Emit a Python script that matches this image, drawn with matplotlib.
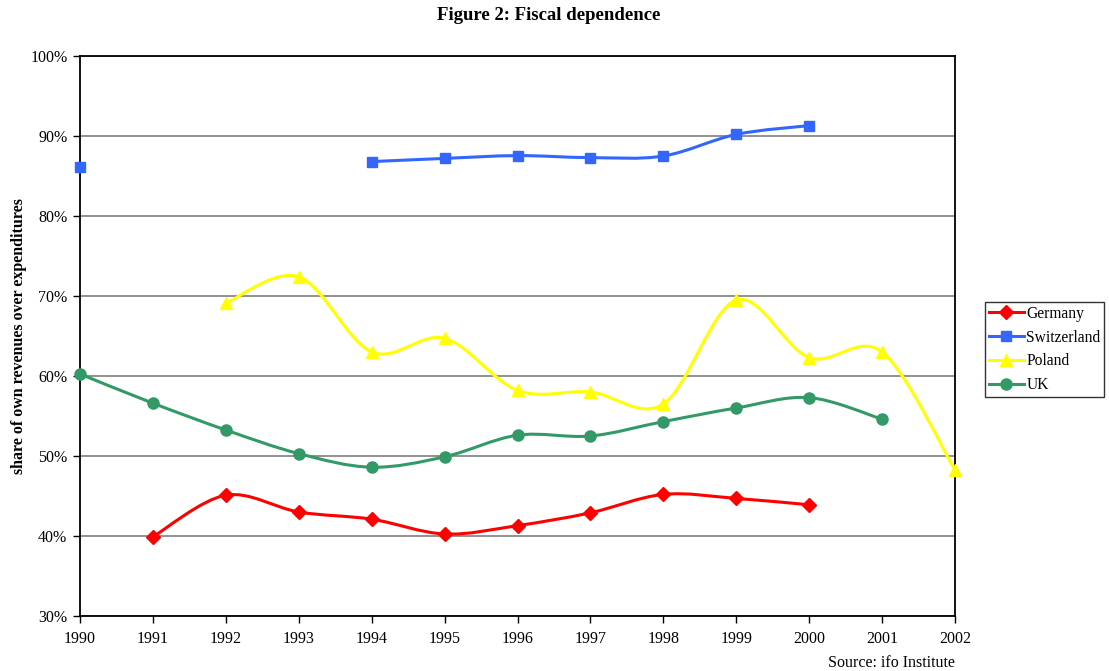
import numpy as np
import matplotlib
matplotlib.use("Agg")
import matplotlib.pyplot as plt
from matplotlib.path import Path
from matplotlib.patches import PathPatch
from matplotlib.ticker import FuncFormatter, MultipleLocator

plt.rcParams['font.family'] = ['Liberation Serif', 'DejaVu Serif']

years = list(range(1990, 2003))

germany_years = [1991, 1992, 1993, 1994, 1995, 1996, 1997, 1998, 1999, 2000]
germany = [39.9, 45.1, 43.0, 42.1, 40.25, 41.3, 42.9, 45.2, 44.7, 43.9]

swiss_years = [1990, 1994, 1995, 1996, 1997, 1998, 1999, 2000]
switzerland = [86.1, 86.8, 87.2, 87.55, 87.3, 87.5, 90.2, 91.3]

poland_years = [1992, 1993, 1994, 1995, 1996, 1997, 1998, 1999, 2000, 2001, 2002]
poland = [69.1, 72.4, 63.0, 64.7, 58.2, 58.0, 56.5, 69.5, 62.3, 63.0, 48.25]

uk_years = [1990, 1991, 1992, 1993, 1994, 1995, 1996, 1997, 1998, 1999, 2000, 2001]
uk = [60.25, 56.6, 53.25, 50.3, 48.6, 49.9, 52.6, 52.5, 54.3, 56.0, 57.3, 54.6]

series = [
    ("Germany", germany_years, germany, "#FF0000", "D", 7),
    ("Switzerland", swiss_years, switzerland, "#3366FF", "s", 7.5),
    ("Poland", poland_years, poland, "#FFFF00", "^", 8),
    ("UK", uk_years, uk, "#339966", "o", 8),
]

fig = plt.figure(figsize=(11.09, 6.71), dpi=100)
ax = fig.add_axes([80 / 1109, 1 - 616 / 671, (955 - 80) / 1109, (616 - 56) / 671])


def smooth_path(xs, ys):
    """Catmull-Rom style Bezier through consecutive points (Excel-like smoothing)."""
    pts = np.column_stack([xs, ys]).astype(float)
    n = len(pts)
    verts = [pts[0]]
    codes = [Path.MOVETO]
    for i in range(n - 1):
        p0 = pts[i - 1] if i > 0 else pts[i]
        p1 = pts[i]
        p2 = pts[i + 1]
        p3 = pts[i + 2] if i + 2 < n else pts[i + 1]
        c1 = p1 + (p2 - p0) / 6.0
        c2 = p2 - (p3 - p1) / 6.0
        verts += [c1, c2, p2]
        codes += [Path.CURVE4] * 3
    return Path(verts, codes)


def consecutive_runs(xs, ys):
    runs = []
    cur_x, cur_y = [xs[0]], [ys[0]]
    for x, y in zip(xs[1:], ys[1:]):
        if x - cur_x[-1] == 1:
            cur_x.append(x)
            cur_y.append(y)
        else:
            runs.append((cur_x, cur_y))
            cur_x, cur_y = [x], [y]
    runs.append((cur_x, cur_y))
    return runs


handles = []
for name, xs, ys, color, marker, ms in series:
    for rx, ry in consecutive_runs(xs, ys):
        if len(rx) > 1:
            patch = PathPatch(smooth_path(rx, ry), facecolor='none', edgecolor=color,
                              lw=2.2, zorder=3, capstyle='round', joinstyle='round')
            ax.add_patch(patch)
    ax.plot(xs, ys, linestyle='none', marker=marker, markersize=ms, color=color,
            markeredgecolor=color, zorder=4, clip_on=False)
    h, = ax.plot([], [], color=color, lw=2.2, marker=marker, markersize=ms,
                 markeredgecolor=color, label=name)
    handles.append(h)

ax.set_xlim(1990, 2002)
ax.set_ylim(30, 100)
ax.set_xticks(years)
ax.set_xticklabels([str(y) for y in years])
ax.yaxis.set_major_locator(MultipleLocator(10))
ax.yaxis.set_major_formatter(FuncFormatter(lambda v, p: f"{int(round(v))}%"))
ax.tick_params(axis='both', labelsize=11.5, direction='out', length=5, width=1, colors='black')
ax.tick_params(axis='x', pad=6)
ax.tick_params(axis='y', pad=4)
ax.grid(axis='y', color='#7f7f7f', lw=1.2, zorder=1)
ax.set_axisbelow(True)
for s in ax.spines.values():
    s.set_color('black')
    s.set_linewidth(1.3)

ax.set_ylabel("share of own revenues over expenditures", fontsize=11.5, fontweight='bold')
ax.yaxis.set_label_coords((27 - 80) / 875, 0.5)

fig.text(549 / 1109, 1 - 15 / 671, "Figure 2: Fiscal dependence", ha='center', va='center',
         fontsize=13.5, fontweight='bold')
fig.text(955 / 1109, 1 - 663 / 671, "Source: ifo Institute", ha='right', va='center', fontsize=11.5)

leg = fig.legend(handles=handles, loc='upper left', bbox_to_anchor=(985 / 1109, 1 - 302 / 671),
                 frameon=True, fancybox=False, edgecolor='black', fontsize=11.2,
                 handlelength=2.25, borderaxespad=0, labelspacing=0.5, handletextpad=0.15,
                 borderpad=0.25)
leg.get_frame().set_linewidth(1.0)

fig.savefig("out.png", dpi=100, facecolor='white')
